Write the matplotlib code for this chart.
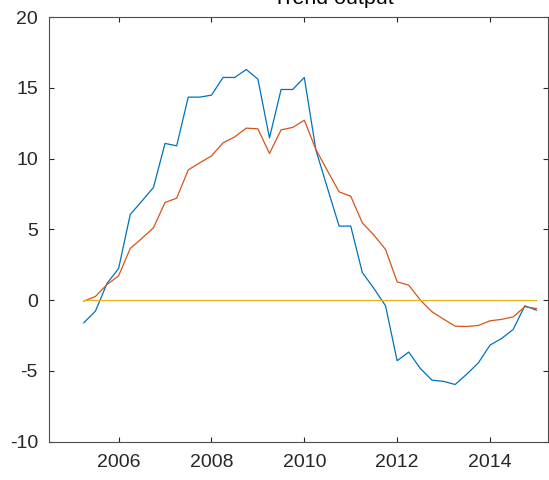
import numpy as np
import matplotlib
matplotlib.use('Agg')
import matplotlib.pyplot as plt

plt.rcParams['font.family'] = ['Liberation Sans', 'DejaVu Sans']
plt.rcParams['axes.unicode_minus'] = False

# quarterly dates, 2005Q2 .. 2015Q1
anni = np.arange(2005.25, 2015.01, 0.25)

# serie
gap_blu = [-1.60, -0.78, 1.18, 2.24, 6.05, 6.99, 7.96, 11.07, 10.90, 14.34,
           14.34, 14.48, 15.73, 15.73, 16.29, 15.61, 11.46, 14.88, 14.88, 15.73,
           10.60, 7.90, 5.23, 5.23, 1.95, 0.82, -0.40, -4.28, -3.67, -4.83,
           -5.65, -5.74, -5.96, -5.23, -4.43, -3.18, -2.71, -2.07, -0.40, -0.71]
gap_arancio = [-0.07, 0.26, 1.10, 1.72, 3.65, 4.36, 5.11, 6.90, 7.20, 9.20,
               9.70, 10.19, 11.11, 11.53, 12.15, 12.10, 10.36, 12.03, 12.20, 12.71,
               10.64, 9.13, 7.65, 7.34, 5.46, 4.59, 3.58, 1.29, 1.06, 0.00,
               -0.82, -1.34, -1.84, -1.86, -1.79, -1.46, -1.36, -1.18, -0.47, -0.59]
zero = np.zeros(len(anni))

xticks = [2006, 2008, 2010, 2012, 2014]
yticks = [-10, -5, 0, 5, 10, 15, 20]
titolo = 'Trend output'

fig = plt.figure(figsize=(5.49, 4.8), dpi=100)
ax = fig.add_axes([49/549, 1-441.7/480, (548-49)/549, (441.7-17)/480])

ax.plot(anni, gap_blu, color='#0072BD', lw=0.9)
ax.plot(anni, gap_arancio, color='#D95319', lw=0.9)
ax.plot(anni, zero, color='#EDB120', lw=0.9)

ax.set_xlim(2004.5, 2015.25)
ax.set_ylim(-10, 20)
ax.set_xticks(xticks)
ax.set_yticks(yticks)
ax.tick_params(direction='in', top=True, right=True, length=3.5, width=0.8,
               labelsize=14, colors='#262626')
ax.tick_params(axis='x', pad=8.5)
ax.tick_params(axis='y', pad=8)
for s in ax.spines.values():
    s.set_color('#4d4d4d')
    s.set_linewidth(0.8)

# titolo tagliato in alto come nell'originale
fig.text(333/549, 1-4/480, titolo, ha='center', va='baseline',
         fontsize=15.4, color='black')

fig.savefig('out.png', dpi=100)
